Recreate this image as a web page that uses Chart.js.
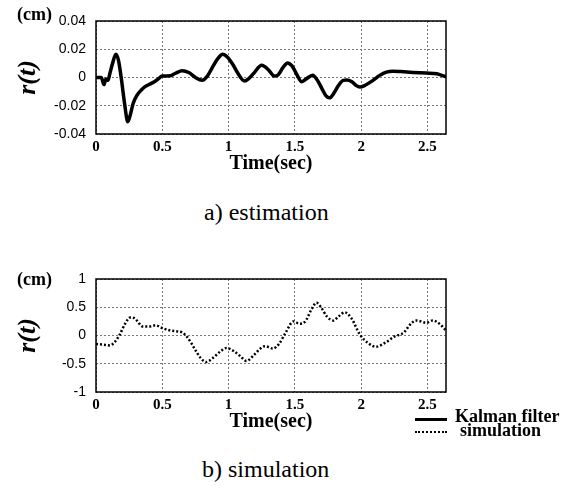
<!DOCTYPE html>
<html>
<head>
<meta charset="UTF-8">
<title>r(t) estimation / simulation</title>
<script src="https://cdn.jsdelivr.net/npm/chart.js"></script>
<style>
    body { margin: 0; background: #fff; }
    .page { position: relative; width: 576px; height: 488px; background: #fff; overflow: hidden; }
    canvas { position: absolute; left: 0; }
    .txt { position: absolute; font-family: "Liberation Serif", serif; color: #000; white-space: nowrap; }
    .unit { font-weight: bold; font-size: 18px; left: 17px; }
    .caption { font-size: 24px; }
    .legend { font-weight: bold; font-size: 18px; left: 455px; }
    .swatch { position: absolute; left: 415px; width: 32px; }
</style>
</head>
<body>
<div class="page">
    <canvas id="estChart" width="576" height="180" style="top:0px"></canvas>
    <canvas id="simChart" width="576" height="180" style="top:258px"></canvas>

    <div class="txt unit" style="top:4px">(cm)</div>
    <div class="txt unit" style="top:269px">(cm)</div>
    <div class="txt caption" style="left:204px; top:199px">a) estimation</div>
    <div class="txt caption" style="left:202px; top:456px">b) simulation</div>

    <div class="swatch" style="top:418px; border-top:3px solid #000"></div>
    <div class="txt legend" style="top:406px">Kalman filter</div>
    <div class="swatch" style="top:431px; border-top:2px dotted #000"></div>
    <div class="txt legend" style="top:420px; left:460px">simulation</div>
</div>

<script>
    // time axis (sec)
    const timeMax = 2.64;
    const timeTicks = [0, 0.5, 1, 1.5, 2, 2.5];

    // a) Kalman filter estimation, r(t) in cm
    const estTime = [0, 0.04, 0.06, 0.075, 0.09, 0.105, 0.125, 0.15, 0.17, 0.19, 0.215, 0.24, 0.26, 0.28,
        0.31, 0.34, 0.37, 0.40, 0.44, 0.47, 0.50, 0.56, 0.60, 0.65, 0.70, 0.75, 0.80, 0.84, 0.88, 0.92,
        0.955, 0.99, 1.03, 1.07, 1.12, 1.15, 1.19, 1.25, 1.30, 1.345, 1.375, 1.41, 1.445, 1.48, 1.515,
        1.55, 1.585, 1.635, 1.67, 1.705, 1.735, 1.762, 1.795, 1.83, 1.865, 1.89, 1.93, 1.96, 1.99, 2.03,
        2.09, 2.14, 2.19, 2.24, 2.30, 2.39, 2.49, 2.57, 2.635];
    const estValues = [0, 0, -0.005, -0.001, -0.002, 0.003, 0.010, 0.0165, 0.012, 0.0, -0.018, -0.0314, -0.026, -0.0184,
        -0.0125, -0.009, -0.0065, -0.005, -0.003, -0.001, 0.001, 0.0012, 0.003, 0.0048, 0.0035, 0.0, -0.002, 0.001, 0.0075, 0.0135,
        0.0165, 0.0145, 0.0095, 0.003, -0.0025, -0.001, 0.003, 0.0087, 0.0055, 0.001, 0.002, 0.007, 0.0103, 0.008, 0.002,
        -0.003, -0.001, 0.0016, -0.002, -0.008, -0.013, -0.0144, -0.011, -0.0055, -0.002, -0.0018, -0.003, -0.0055, -0.0068, -0.0055,
        -0.002, 0.0015, 0.0038, 0.0045, 0.0042, 0.0036, 0.0031, 0.0026, 0.0007];
    const estTicks = [-0.04, -0.02, 0, 0.02, 0.04];

    // b) simulation, r(t) in cm
    const simTime = [0, 0.05, 0.105, 0.14, 0.18, 0.22, 0.26, 0.285, 0.31, 0.35, 0.40, 0.45, 0.50, 0.56, 0.62,
        0.65, 0.685, 0.72, 0.75, 0.79, 0.83, 0.88, 0.94, 0.985, 1.035, 1.085, 1.135, 1.19, 1.235, 1.275,
        1.335, 1.38, 1.43, 1.49, 1.535, 1.575, 1.625, 1.663, 1.70, 1.74, 1.79, 1.83, 1.876, 1.925, 1.99,
        2.05, 2.11, 2.18, 2.25, 2.32, 2.38, 2.42, 2.49, 2.54, 2.59, 2.635];
    const simValues = [-0.15, -0.16, -0.175, -0.12, 0.02, 0.21, 0.32, 0.31, 0.26, 0.16, 0.16, 0.18, 0.13, 0.09, 0.07,
        0.055, -0.02, -0.14, -0.26, -0.40, -0.47, -0.40, -0.28, -0.22, -0.27, -0.36, -0.45, -0.35, -0.24, -0.19,
        -0.23, -0.15, 0.05, 0.25, 0.21, 0.24, 0.46, 0.58, 0.49, 0.34, 0.265, 0.34, 0.41, 0.31, 0.02,
        -0.13, -0.2, -0.13, -0.02, 0.05, 0.22, 0.265, 0.225, 0.265, 0.21, 0.10];
    const simTicks = [-1, -0.5, 0, 0.5, 1];

    Chart.defaults.font.family = '"Liberation Serif", serif';
    Chart.defaults.color = '#000';

    // solid black box around the plot area
    const framePlugin = {
        id: 'frame',
        afterDraw(chart) {
            const ctx = chart.ctx, a = chart.chartArea;
            ctx.save();
            ctx.strokeStyle = '#000';
            ctx.lineWidth = 1.5;
            ctx.setLineDash([]);
            ctx.strokeRect(a.left, a.top, a.right - a.left, a.bottom - a.top);
            ctx.restore();
        }
    };

    function fmt(v) {
        if (Math.abs(v) < 1e-9) return '0';
        return String(Math.round(v * 100) / 100);
    }

    function makeChart(id, xs, ys, yTicks, lineStyle) {
        const yMin = yTicks[0], yMax = yTicks[yTicks.length - 1];
        return new Chart(document.getElementById(id), {
            type: 'line',
            data: {
                datasets: [Object.assign({
                    data: xs.map((t, i) => ({ x: t, y: ys[i] })),
                    borderColor: '#000',
                    pointRadius: 0,
                    cubicInterpolationMode: 'monotone',
                    fill: false
                }, lineStyle)]
            },
            options: {
                responsive: false,
                animation: false,
                layout: { padding: { left: 0, right: 130, top: 21, bottom: 1 } },
                plugins: { legend: { display: false }, tooltip: { enabled: false } },
                scales: {
                    x: {
                        type: 'linear',
                        min: 0,
                        max: timeMax,
                        afterBuildTicks: s => { s.ticks = timeTicks.map(v => ({ value: v })); },
                        afterFit: s => { s.height = 45; },
                        ticks: {
                            padding: 4,
                            font: { size: 15, weight: 'bold' },
                            callback: v => String(v)
                        },
                        grid: { color: '#777', lineWidth: 1, drawTicks: false, borderDash: [2, 2] },
                        border: { display: false, dash: [2, 2] },
                        title: {
                            display: true,
                            text: 'Time(sec)',
                            font: { size: 20, weight: 'bold' },
                            padding: { top: 0, bottom: 3 }
                        }
                    },
                    y: {
                        min: yMin,
                        max: yMax,
                        afterBuildTicks: s => { s.ticks = yTicks.map(v => ({ value: v })); },
                        afterFit: s => { s.width = 96; },
                        ticks: {
                            padding: 10,
                            font: { family: '"Liberation Sans", sans-serif', size: 14 },
                            callback: v => fmt(v)
                        },
                        grid: { color: '#777', lineWidth: 1, drawTicks: false, borderDash: [2, 2] },
                        border: { display: false, dash: [2, 2] },
                        title: {
                            display: true,
                            text: 'r(t)',
                            font: { size: 26, weight: 'bold', style: 'italic' },
                            padding: { top: 13, bottom: 0 }
                        }
                    }
                }
            },
            plugins: [framePlugin]
        });
    }

    makeChart('estChart', estTime, estValues, estTicks,
        { borderWidth: 3.5, borderCapStyle: 'round', borderJoinStyle: 'round' });
    makeChart('simChart', simTime, simValues, simTicks,
        { borderWidth: 2.5, borderDash: [2, 2] });
</script>
</body>
</html>
